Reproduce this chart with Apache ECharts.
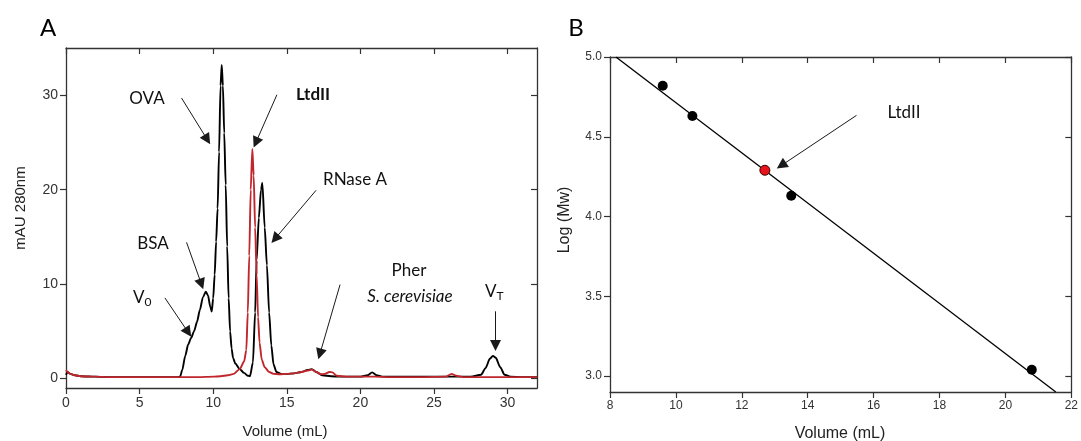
<!DOCTYPE html>
<html>
<head>
<meta charset="utf-8">
<script src="https://cdn.jsdelivr.net/npm/echarts@6/dist/echarts.min.js"></script>
<style>
  html, body { margin: 0; padding: 0; background: #fff; }
  #chart { width: 1081px; height: 441px; }
</style>
</head>
<body>
<div id="chart"></div>
<script>
// Panel A: size-exclusion chromatograms (volume in mL, absorbance in mAU at 280 nm)
const standardsVolume = [0, 0.1, 0.3, 0.6, 1.0, 2, 3, 4, 5, 6, 7, 7.6, 7.75, 7.9, 8.1, 8.3, 8.5, 8.7, 8.9, 9.1, 9.3, 9.5, 9.65, 9.8, 9.9, 10.0, 10.1, 10.2, 10.3, 10.4, 10.5, 10.58, 10.66, 10.75, 10.85, 10.95, 11.05, 11.15, 11.25, 11.35, 11.5, 11.8, 12.1, 12.35, 12.5, 12.7, 12.85, 12.95, 13.1, 13.25, 13.34, 13.5, 13.65, 13.8, 13.95, 14.1, 14.3, 14.6, 15, 15.5, 16, 16.4, 16.7, 17.0, 17.4, 18, 19, 20, 20.5, 20.8, 21.1, 21.5, 22, 24, 26, 27.5, 28.2, 28.5, 28.8, 29.0, 29.2, 29.5, 29.8, 30.2, 31, 32];
const standardsAbs = [0.4, 0.7, 0.5, 0.35, 0.25, 0.2, 0.15, 0.15, 0.15, 0.15, 0.15, 0.15, 0.2, 0.9, 2.4, 3.6, 4.3, 5.0, 6.0, 7.3, 8.6, 9.2, 8.8, 7.6, 7.1, 8.5, 11, 14.5, 18, 24, 31, 33.2, 31, 26, 20.5, 14, 8.5, 5, 3.2, 2.2, 1.6, 1.0, 0.6, 0.3, 0.25, 1.7, 7, 12.5, 17, 20, 20.7, 16, 12, 7, 3.5, 1.5, 0.7, 0.5, 0.5, 0.55, 0.7, 0.9, 1.0, 0.7, 0.35, 0.25, 0.2, 0.2, 0.35, 0.65, 0.35, 0.2, 0.2, 0.2, 0.2, 0.2, 0.4, 1.1, 2.1, 2.4, 2.2, 1.2, 0.4, 0.2, 0.15, 0.15];

const ltdIIVolume = [0, 0.1, 0.3, 0.6, 1.0, 2, 3, 4, 5, 6, 7, 8, 9, 10, 10.5, 11, 11.4, 11.8, 12.1, 12.25, 12.35, 12.45, 12.55, 12.66, 12.75, 12.85, 12.95, 13.05, 13.15, 13.3, 13.5, 13.8, 14.1, 14.5, 15, 15.5, 16, 16.4, 16.7, 17.0, 17.3, 17.6, 17.9, 18.1, 18.4, 19, 20, 21, 22, 24, 25.8, 26.2, 26.5, 27, 28, 30, 32];
const ltdIIAbs = [0.9, 0.7, 0.5, 0.35, 0.25, 0.2, 0.15, 0.15, 0.15, 0.15, 0.15, 0.15, 0.15, 0.2, 0.25, 0.35, 0.5, 1.0, 1.8, 3, 7, 13, 20, 24.3, 21.5, 16, 11, 6.5, 3.8, 2.0, 1.2, 0.7, 0.5, 0.45, 0.5, 0.55, 0.7, 0.85, 0.95, 0.7, 0.45, 0.5, 0.7, 0.65, 0.3, 0.2, 0.2, 0.2, 0.15, 0.15, 0.2, 0.5, 0.3, 0.15, 0.15, 0.15, 0.15];

const chromVolumeTicks = [0, 5, 10, 15, 20, 25, 30];
const chromAbsTicks = [0, 10, 20, 30];

// Panel B: calibration of log(Mw) against elution volume
const calibVolume = [9.6, 10.5, 13.5, 20.8];
const calibLogMw = [4.82, 4.63, 4.13, 3.04];
const ltdIIPointVolume = [12.7];
const ltdIIPointLogMw = [4.29];
const fitVolume = [8.18, 21.53];
const fitLogMw = [5.0, 2.9];
const logMwTicks = [3.0, 3.5, 4.0, 4.5, 5.0];

// Annotation arrows, [fromX, fromY, toX, toY] in data units
const chromArrows = [
  [7.85, 29.7, 9.6, 25.3],    // OVA
  [14.33, 30.05, 12.9, 25.0], // LtdII
  [16.99, 19.93, 14.2, 14.8], // RNase A
  [8.19, 14.42, 9.2, 10.0],   // BSA
  [6.72, 8.54, 8.3, 4.9],     // V0
  [18.62, 9.95, 17.25, 2.6],  // Pher
  [29.18, 7.12, 29.18, 3.5]   // VT
];
const calibArrows = [
  [15.48, 4.634, 13.2, 4.32]  // LtdII
];

const pairs = (xs, ys) => xs.map((x, i) => [x, ys[i]]);
const arrowLines = list => list.map(a => [{ coord: [a[0], a[1]] }, { coord: [a[2], a[3]] }]);

const AXIS = '#333';
const SANS = '"Liberation Sans", Arial, sans-serif';
const NOTE = 'Lato, "Open Sans", sans-serif';

const axisCommon = {
  type: 'value',
  splitLine: { show: false },
  axisLine: { show: true, onZero: false, lineStyle: { color: AXIS, width: 1.3 } }
};

function mainAxis(extra, ticks, fmt, fontSize) {
  return Object.assign({}, axisCommon, {
    axisTick: { show: true, inside: false, length: 6, customValues: ticks, lineStyle: { color: AXIS, width: 1.2 } },
    axisLabel: { show: true, customValues: ticks, margin: 8, color: '#333', fontFamily: SANS, fontSize: fontSize, formatter: fmt },
  }, extra);
}
function mirrorAxis(extra, ticks) {
  return Object.assign({}, axisCommon, {
    axisTick: { show: true, inside: true, length: 6, customValues: ticks, lineStyle: { color: AXIS, width: 1.2 } },
    axisLabel: { show: false }
  }, extra);
}

const chart = echarts.init(document.getElementById('chart'), null, { renderer: 'canvas' });

const noteText = (x, y, text, opts, rotation) => ({
  type: 'text', x: x, y: y, rotation: rotation || 0,
  style: Object.assign({ text: text, fill: '#111', font: '17px ' + NOTE, align: 'center', verticalAlign: 'middle' }, opts || {})
});

const arrowMarks = list => ({
  silent: true, animation: false,
  symbol: ['none', 'triangle'], symbolSize: 11,
  label: { show: false },
  lineStyle: { color: '#1a1a1a', width: 1, type: 'solid' },
  itemStyle: { color: '#1a1a1a' },
  emphasis: { disabled: true },
  data: arrowLines(list)
});

chart.setOption({
  animation: false,
  backgroundColor: '#fff',
  grid: [
    { left: 66, top: 48, width: 471, height: 340 },
    { left: 610, top: 57, width: 466, height: 335 }
  ],
  xAxis: [
    mainAxis({ gridIndex: 0, position: 'bottom', min: 0, max: 32 }, chromVolumeTicks, v => String(v), 14),
    mirrorAxis({ gridIndex: 0, position: 'top', min: 0, max: 32 }, chromVolumeTicks),
    mainAxis({ gridIndex: 1, position: 'bottom', min: 8, max: 22, interval: 2 }, undefined, v => String(v), 12),
    mirrorAxis({ gridIndex: 1, position: 'top', min: 8, max: 22, interval: 2 }, undefined)
  ],
  yAxis: [
    mainAxis({ gridIndex: 0, position: 'left', min: -1, max: 35 }, chromAbsTicks, v => String(v), 14),
    mirrorAxis({ gridIndex: 0, position: 'right', min: -1, max: 35 }, chromAbsTicks),
    mainAxis({ gridIndex: 1, position: 'left', min: 2.9, max: 5.0 }, logMwTicks, v => v.toFixed(1), 12),
    mirrorAxis({ gridIndex: 1, position: 'right', min: 2.9, max: 5.0 }, logMwTicks)
  ],
  series: [
    {
      name: 'Standards', type: 'line', xAxisIndex: 0, yAxisIndex: 0,
      data: pairs(standardsVolume, standardsAbs),
      showSymbol: false, smooth: 0.25, smoothMonotone: 'x',
      lineStyle: { color: '#000', width: 1.9 }, z: 2,
      markLine: arrowMarks(chromArrows)
    },
    {
      name: 'LtdII', type: 'line', xAxisIndex: 0, yAxisIndex: 0,
      data: pairs(ltdIIVolume, ltdIIAbs),
      showSymbol: false, smooth: 0.25, smoothMonotone: 'x',
      lineStyle: { color: '#c0262c', width: 1.9 }, z: 3
    },
    {
      name: 'Fit', type: 'line', xAxisIndex: 2, yAxisIndex: 2,
      data: pairs(fitVolume, fitLogMw),
      showSymbol: false, lineStyle: { color: '#000', width: 1.3 }, z: 2,
      markLine: arrowMarks(calibArrows)
    },
    {
      name: 'Calibration standards', type: 'scatter', xAxisIndex: 2, yAxisIndex: 2,
      data: pairs(calibVolume, calibLogMw),
      symbol: 'circle', symbolSize: 10, itemStyle: { color: '#000', opacity: 1 }, z: 4
    },
    {
      name: 'LtdII estimate', type: 'scatter', xAxisIndex: 2, yAxisIndex: 2,
      data: pairs(ltdIIPointVolume, ltdIIPointLogMw),
      symbol: 'circle', symbolSize: 10, itemStyle: { color: '#e8141b', borderColor: '#3a0000', borderWidth: 1, opacity: 1 }, z: 5
    }
  ],
  graphic: [
    noteText(48, 28, 'A', { font: '24px ' + NOTE, fill: '#000' }),
    noteText(576, 28, 'B', { font: '24px ' + NOTE, fill: '#000' }),
    noteText(147, 99, 'OVA'),
    noteText(313, 95, 'LtdII', { font: 'bold 17px ' + NOTE }),
    noteText(355, 180, 'RNase A'),
    noteText(153, 244, 'BSA'),
    {
      type: 'text', x: 133, y: 298,
      style: {
        text: '{v|V}{s|0}', verticalAlign: 'middle', fill: '#111',
        rich: { v: { font: '17px ' + NOTE, fill: '#111' }, s: { font: '12px ' + NOTE, fill: '#111', padding: [9, 0, 0, 0] } }
      }
    },
    noteText(409, 271, 'Pher'),
    noteText(410, 297, 'S. cerevisiae', { font: 'italic 17px ' + NOTE }),
    {
      type: 'text', x: 485, y: 292,
      style: {
        text: '{v|V}{s|T}', verticalAlign: 'middle', fill: '#111',
        rich: { v: { font: '17px ' + NOTE, fill: '#111' }, s: { font: '12px ' + NOTE, fill: '#111', padding: [9, 0, 0, 0] } }
      }
    },
    noteText(904, 113, 'LtdII'),
    // axis titles
    noteText(21, 208, 'mAU 280nm', { font: '15px ' + SANS, fill: '#222' }, Math.PI / 2),
    noteText(285, 432, 'Volume (mL)', { font: '15px ' + SANS, fill: '#222' }),
    noteText(565, 220, 'Log (Mw)', { font: '16px ' + SANS, fill: '#222' }, Math.PI / 2),
    noteText(840, 434, 'Volume (mL)', { font: '16px ' + SANS, fill: '#222' })
  ]
});
</script>
</body>
</html>
